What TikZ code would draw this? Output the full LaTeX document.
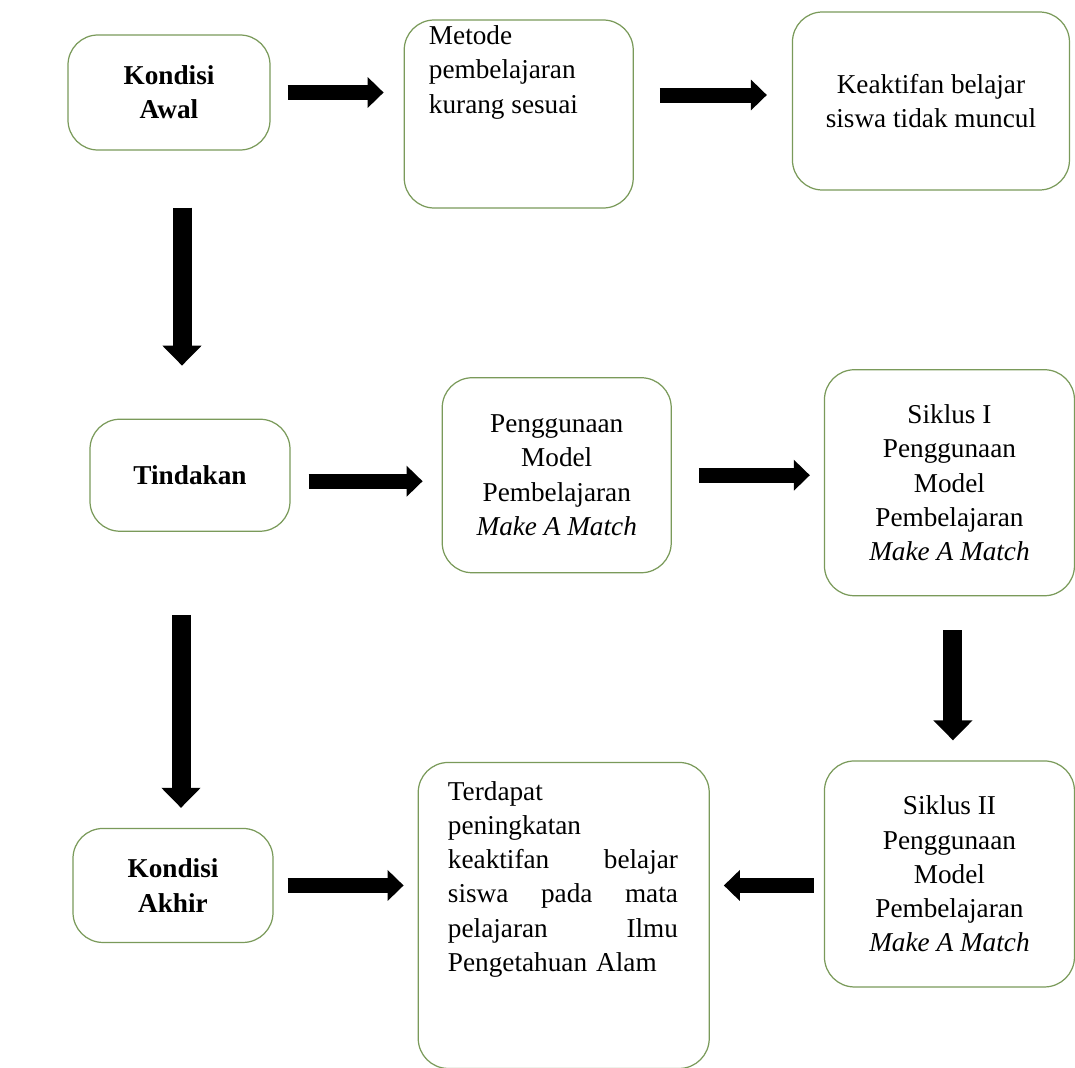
\documentclass[tikz,border=0pt]{standalone}
\usepackage{fontspec}
\setmainfont{Liberation Serif}
\usepackage{tikz}
\usepackage{xcolor}
\usetikzlibrary{positioning}
\usetikzlibrary{arrows.meta, calc}
\definecolor{boxgreen}{RGB}{122,154,90}

\begin{document}
\begin{tikzpicture}
	\tikzstyle{box} = [draw=boxgreen, line width=0.7pt, rounded corners=0.6cm, align=center, inner sep=0pt, font=\fontsize{15.5}{19.5}\selectfont]
	\tikzstyle{txt} = [inner sep=0pt, font=\fontsize{15.5}{19.5}\selectfont]
	\tikzstyle{harrow} = [line width=0.3cm, -{Triangle[width=0.6cm, length=0.32cm]}]
	\tikzstyle{varrow} = [line width=0.38cm, -{Triangle[width=0.76cm, length=0.4cm]}]

	\useasboundingbox (0,0) rectangle (21.5,-21.36);

	% top row
	\node (1) [box, minimum width=4.04cm, minimum height=2.3cm, font=\fontsize{15.5}{19.5}\selectfont\bfseries] at (3.38,-1.85) {Kondisi\\Awal};
	\node (2) [box, minimum width=4.58cm, minimum height=3.76cm, right=2.66cm of 1, yshift=-0.43cm] {};
	\node (3) [box, minimum width=5.54cm, minimum height=3.56cm, right=3.16cm of 2, yshift=0.26cm] {Keaktifan belajar\\siswa tidak muncul};
	\node (2t) [txt, anchor=north west, align=left] at ([xshift=0.5cm, yshift=-0.12cm]2.north west) {Metode\\pembelajaran\\kurang sesuai};

	% middle row
	\node (4) [box, minimum width=4cm, minimum height=2.24cm, below=5.36cm of 1, xshift=0.42cm, font=\fontsize{15.5}{19.5}\selectfont\bfseries] {Tindakan};
	\node (5) [box, minimum width=4.58cm, minimum height=3.9cm, right=3.02cm of 4] {Penggunaan\\Model\\Pembelajaran\\\textit{Make A Match}};
	\node (6) [box, minimum width=5cm, minimum height=4.52cm, right=3.04cm of 5, yshift=-0.15cm] {Siklus I\\Penggunaan\\Model\\Pembelajaran\\\textit{Make A Match}};

	% bottom row
	\node (7) [box, minimum width=4cm, minimum height=2.28cm, below=5.92cm of 4, xshift=-0.34cm, font=\fontsize{15.5}{19.5}\selectfont\bfseries] {Kondisi\\Akhir};
	\node (8) [box, minimum width=5.82cm, minimum height=6.12cm, right=2.88cm of 7, yshift=-0.6cm] {};
	\node (9) [box, minimum width=5cm, minimum height=4.52cm, below=3.28cm of 6] {Siklus II\\Penggunaan\\Model\\Pembelajaran\\\textit{Make A Match}};
	\node (8t) [txt, anchor=north west, text width=4.6cm, align=left] at ([xshift=0.6cm, yshift=-0.38cm]8.north west) {Terdapat\\peningkatan\\keaktifan\hfill belajar\\siswa\hfill pada\hfill mata\\pelajaran\hfill Ilmu\\Pengetahuan Alam};

	% arrows
	\draw [harrow, shorten <=0.34cm, shorten >=0.4cm] (1.east) -- (1.east -| 2.west);
	\draw [harrow, shorten <=0.52cm, shorten >=0.5cm] ([yshift=0.12cm]3.west -| 2.east) -- ([yshift=0.12cm]3.west);
	\draw [harrow, shorten <=0.36cm, shorten >=0.38cm] ([yshift=-0.12cm]4.east) -- ([yshift=-0.12cm]4.east -| 5.west);
	\draw [harrow, shorten <=0.54cm, shorten >=0.28cm] (5.east) -- (5.east -| 6.west);
	\draw [harrow, shorten <=0.28cm, shorten >=0.28cm] (7.east) -- (7.east -| 8.west);
	\draw [harrow, shorten <=0.2cm, shorten >=0.28cm] (7 -| 9.west) -- (7 -| 8.east);

	\draw [varrow, shorten <=1.14cm, shorten >=1.06cm] ([xshift=0.26cm]1.south) -- ([xshift=0.26cm]1.south |- 4.north);
	\draw [varrow, shorten <=1.66cm, shorten >=0.4cm] ([xshift=-0.18cm]4.south) -- ([xshift=-0.18cm]4.south |- 7.north);
	\draw [varrow, shorten <=0.68cm, shorten >=0.4cm] ([xshift=0.07cm]6.south) -- ([xshift=0.07cm]6.south |- 9.north);
\end{tikzpicture}
\end{document}
